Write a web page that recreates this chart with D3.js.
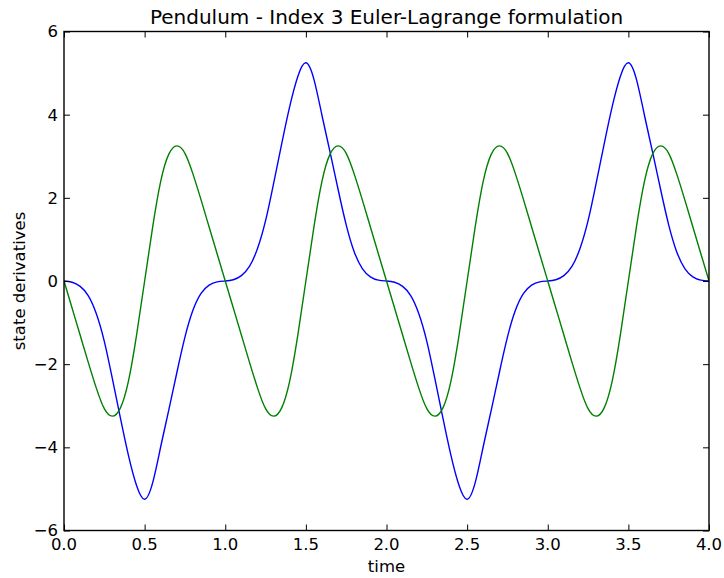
<html>
<style>
    body {
        margin: 0;
        background: #fff;
    }

    text {
        font-family: "DejaVu Sans", sans-serif;
        fill: #000;
    }
</style>

<head>
    <title>Pendulum</title>
    <script type="text/javascript" src="https://d3js.org/d3.v7.min.js"></script>
</head>

<body>
    <script>
        var width = 724;
        var height = 578;

        // plot area (pixels)
        var marge = { top: 31.5, bottom: 47.5, left: 64, right: 15 };

        // sample times
        var time = [
            0.00, 0.05, 0.10, 0.15, 0.20, 0.25, 0.30, 0.35, 0.40, 0.45,
            0.50, 0.55, 0.60, 0.65, 0.70, 0.75, 0.80, 0.85, 0.90, 0.95,
            1.00, 1.05, 1.10, 1.15, 1.20, 1.25, 1.30, 1.35, 1.40, 1.45,
            1.50, 1.55, 1.60, 1.65, 1.70, 1.75, 1.80, 1.85, 1.90, 1.95,
            2.00, 2.05, 2.10, 2.15, 2.20, 2.25, 2.30, 2.35, 2.40, 2.45,
            2.50, 2.55, 2.60, 2.65, 2.70, 2.75, 2.80, 2.85, 2.90, 2.95,
            3.00, 3.05, 3.10, 3.15, 3.20, 3.25, 3.30, 3.35, 3.40, 3.45,
            3.50, 3.55, 3.60, 3.65, 3.70, 3.75, 3.80, 3.85, 3.90, 3.95,
            4.00
        ];

        // blue curve
        var blueValues = [
            0, -0.03, -0.13, -0.35, -0.78, -1.45, -2.35, -3.3, -4.2, -4.92,
            -5.25, -4.85, -3.98, -3.1, -2.2, -1.35, -0.7, -0.3, -0.1, -0.02,
            0, 0.03, 0.13, 0.35, 0.78, 1.45, 2.35, 3.3, 4.2, 4.92,
            5.25, 4.85, 3.98, 3.1, 2.2, 1.35, 0.7, 0.3, 0.1, 0.02,
            0, -0.03, -0.13, -0.35, -0.78, -1.45, -2.35, -3.3, -4.2, -4.92,
            -5.25, -4.85, -3.98, -3.1, -2.2, -1.35, -0.7, -0.3, -0.1, -0.02,
            0, 0.03, 0.13, 0.35, 0.78, 1.45, 2.35, 3.3, 4.2, 4.92,
            5.25, 4.85, 3.98, 3.1, 2.2, 1.35, 0.7, 0.3, 0.1, 0.02,
            0
        ];

        // green curve
        var greenValues = [
            0, -0.65, -1.3, -1.95, -2.57, -3.07, -3.25, -3.05, -2.4, -1.3,
            0, 1.3, 2.4, 3.05, 3.25, 3.07, 2.57, 1.95, 1.3, 0.65,
            0, -0.65, -1.3, -1.95, -2.57, -3.07, -3.25, -3.05, -2.4, -1.3,
            0, 1.3, 2.4, 3.05, 3.25, 3.07, 2.57, 1.95, 1.3, 0.65,
            0, -0.65, -1.3, -1.95, -2.57, -3.07, -3.25, -3.05, -2.4, -1.3,
            0, 1.3, 2.4, 3.05, 3.25, 3.07, 2.57, 1.95, 1.3, 0.65,
            0, -0.65, -1.3, -1.95, -2.57, -3.07, -3.25, -3.05, -2.4, -1.3,
            0, 1.3, 2.4, 3.05, 3.25, 3.07, 2.57, 1.95, 1.3, 0.65,
            0
        ];

        var xTicks = [0, 0.5, 1, 1.5, 2, 2.5, 3, 3.5, 4];
        var yTicks = [-6, -4, -2, 0, 2, 4, 6];

        var svg = d3.select("body")
            .append("svg")
            .attr("width", width)
            .attr("height", height);

        svg.append("rect")
            .attr("width", width)
            .attr("height", height)
            .attr("fill", "#fff");

        var x0 = marge.left, x1 = width - marge.right;
        var y0 = marge.top, y1 = height - marge.bottom;

        var xScale = d3.scaleLinear().domain([0, 4]).range([x0, x1]);
        var yScale = d3.scaleLinear().domain([-6, 6]).range([y1, y0]);

        svg.append("clipPath")
            .attr("id", "plotClip")
            .append("rect")
            .attr("x", x0)
            .attr("y", y0)
            .attr("width", x1 - x0)
            .attr("height", y1 - y0);

        var line = d3.line()
            .x(function (d) { return xScale(d[0]); })
            .y(function (d) { return yScale(d[1]); })
            .curve(d3.curveNatural);

        var series = [
            { values: blueValues, color: "#0000ff" },
            { values: greenValues, color: "#008000" }
        ];

        var lines = svg.append("g").attr("clip-path", "url(#plotClip)");
        series.forEach(function (s) {
            lines.append("path")
                .datum(time.map(function (t, i) { return [t, s.values[i]]; }))
                .attr("d", line)
                .attr("fill", "none")
                .attr("stroke", s.color)
                .attr("stroke-width", 1.4);
        });

        // ticks, inward on all four sides
        var tickLen = 6;
        var xAxisB = d3.axisBottom(xScale).tickValues(xTicks).tickSize(-tickLen).tickFormat("");
        var xAxisT = d3.axisTop(xScale).tickValues(xTicks).tickSize(-tickLen).tickFormat("");
        var yAxisL = d3.axisLeft(yScale).tickValues(yTicks).tickSize(-tickLen).tickFormat("");
        var yAxisR = d3.axisRight(yScale).tickValues(yTicks).tickSize(-tickLen).tickFormat("");

        [
            [xAxisB, "translate(0," + y1 + ")"],
            [xAxisT, "translate(0," + y0 + ")"],
            [yAxisL, "translate(" + x0 + ",0)"],
            [yAxisR, "translate(" + x1 + ",0)"]
        ].forEach(function (a) {
            var g = svg.append("g").attr("transform", a[1]).call(a[0]);
            g.select(".domain").remove();
            g.selectAll("line").attr("stroke", "#000").attr("stroke-width", 1);
        });

        // frame
        svg.append("rect")
            .attr("x", x0)
            .attr("y", y0)
            .attr("width", x1 - x0)
            .attr("height", y1 - y0)
            .attr("fill", "none")
            .attr("stroke", "#000")
            .attr("stroke-width", 1.4);

        // tick labels
        svg.append("g").selectAll("text")
            .data(xTicks)
            .enter()
            .append("text")
            .attr("x", function (d) { return xScale(d); })
            .attr("y", y1 + 19)
            .attr("text-anchor", "middle")
            .style("font-size", "16.5px")
            .text(function (d) { return d.toFixed(1); });

        svg.append("g").selectAll("text")
            .data(yTicks)
            .enter()
            .append("text")
            .attr("x", x0 - 6)
            .attr("y", function (d) { return yScale(d); })
            .attr("dy", "0.36em")
            .attr("text-anchor", "end")
            .style("font-size", "16.5px")
            .text(function (d) { return d < 0 ? "\u2212" + Math.abs(d) : String(d); });

        // title and axis labels
        svg.append("text")
            .attr("x", (x0 + x1) / 2)
            .attr("y", y0 - 8)
            .attr("text-anchor", "middle")
            .style("font-size", "20px")
            .text("Pendulum - Index 3 Euler-Lagrange formulation");

        svg.append("text")
            .attr("x", (x0 + x1) / 2)
            .attr("y", height - 6)
            .attr("text-anchor", "middle")
            .style("font-size", "16.5px")
            .text("time");

        svg.append("text")
            .attr("transform", "translate(25," + ((y0 + y1) / 2) + ") rotate(-90)")
            .attr("text-anchor", "middle")
            .style("font-size", "16.5px")
            .text("state derivatives");
    </script>
</body>

</html>
